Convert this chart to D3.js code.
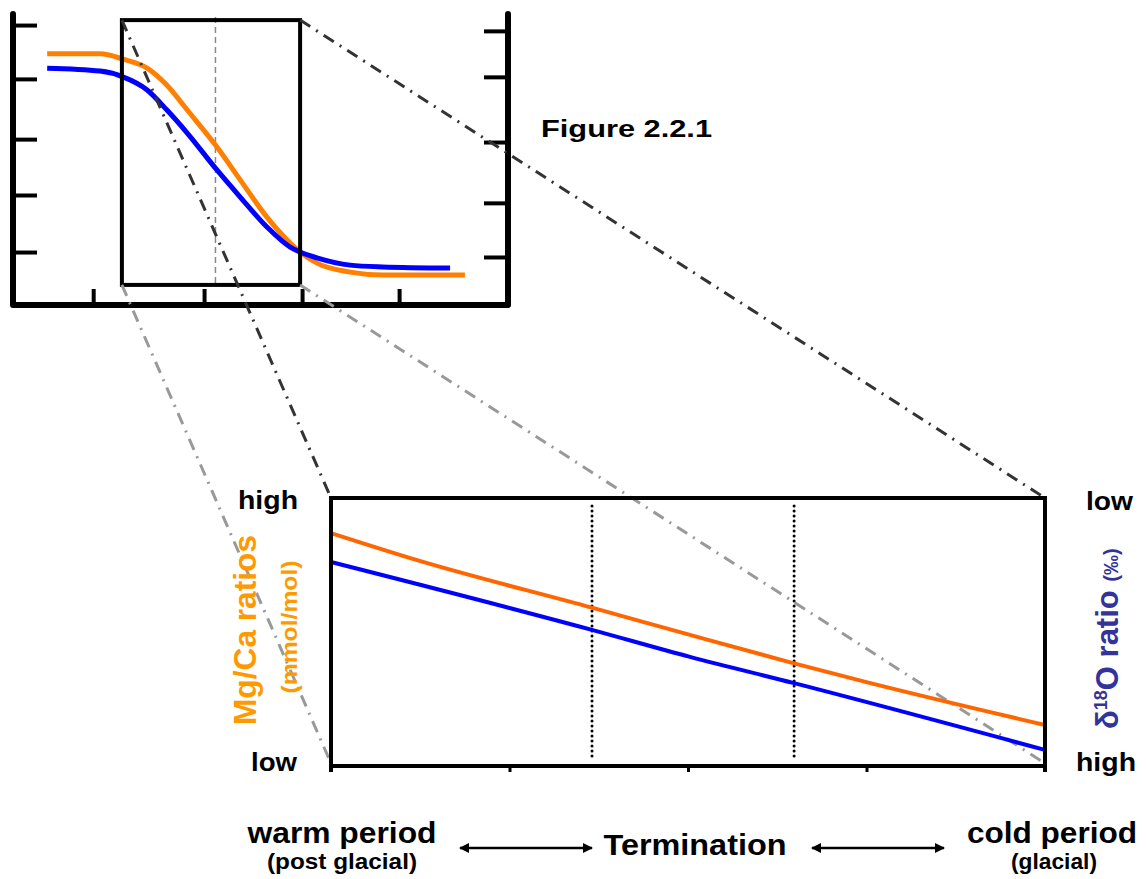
<!DOCTYPE html>
<html>
<head>
<meta charset="utf-8">
<script src="https://cdn.jsdelivr.net/npm/d3@7"></script>
<style>
  body { margin: 0; background: #fff; }
  svg { display: block; font-family: "Liberation Sans", Arial, sans-serif; font-weight: bold; }
</style>
</head>
<body>
<svg width="1146" height="879"></svg>
<script>
// ---- data: small overview chart (arbitrary units 0..10) ----
var overviewX = [0.69, 1.76, 2.22, 2.71, 3.11, 3.52, 4.12, 4.59, 5.13, 5.60, 5.80, 6.14, 6.81, 7.47, 9.13];
var overviewMgCa = [8.63, 8.63, 8.45, 8.14, 7.55, 6.70, 5.43, 4.30, 3.02, 2.13, 1.82, 1.44, 1.13, 1.03, 1.03];
var overviewD18OX = [0.69, 1.76, 2.22, 2.71, 3.11, 3.52, 4.12, 4.59, 5.13, 5.60, 5.80, 6.14, 6.81, 7.47, 8.83];
var overviewD18O = [8.14, 8.04, 7.84, 7.39, 6.70, 5.91, 4.64, 3.71, 2.68, 1.99, 1.82, 1.62, 1.37, 1.31, 1.27];
var overviewLeftTicks = [9.62, 7.77, 5.70, 3.78, 1.82];
var overviewRightTicks = [9.42, 7.84, 5.60, 3.51, 1.65];
var overviewBottomTicks = [1.62, 3.86, 5.84, 7.80];
var zoomWindowX = [2.2, 5.8];
var zoomWindowY = [0.69, 9.79];
var zoomCentre = 4.09;

// ---- data: enlarged termination chart ----
var detailMgCaX = [2.2, 2.63, 3.52, 4.01, 4.53, 4.90, 5.8];
var detailMgCa = [8.69, 7.69, 5.90, 4.89, 3.84, 3.13, 1.53];
var detailD18OX = [2.2, 3.52, 4.01, 4.53, 5.8];
var detailD18O = [7.61, 5.07, 4.07, 3.10, 0.60];
var detailTicks = [2.2, 3.1, 4.0, 4.9, 5.8];
var terminationBounds = [3.516, 4.535];

var svg = d3.select('svg');

// ---------------- overview chart ----------------
var sx = d3.scaleLinear().domain([0, 10]).range([13, 508]);
var sy = d3.scaleLinear().domain([0, 10]).range([305, 14]);

var overview = svg.append('g');

// the U-shaped frame
overview.append('path')
    .attr('d', 'M' + sx(0) + ',' + sy(10) + 'V' + sy(0) + 'H' + sx(10) + 'V' + sy(10))
    .attr('fill', 'none').attr('stroke', '#000').attr('stroke-width', 6)
    .attr('stroke-linejoin', 'round').attr('stroke-linecap', 'round');

function tickAxis(g, axis) {
    g.call(axis);
    g.select('.domain').remove();
    g.selectAll('.tick line').attr('stroke', '#000').attr('stroke-width', 4);
}

overview.append('g').attr('transform', 'translate(' + sx(0) + ',0)')
    .call(tickAxis, d3.axisLeft(sy).tickValues(overviewLeftTicks).tickSize(-24).tickFormat(''));
overview.append('g').attr('transform', 'translate(' + sx(10) + ',0)')
    .call(tickAxis, d3.axisRight(sy).tickValues(overviewRightTicks).tickSize(-24).tickFormat(''));
overview.append('g').attr('transform', 'translate(0,' + sy(0) + ')')
    .call(tickAxis, d3.axisBottom(sx).tickValues(overviewBottomTicks).tickSize(-16).tickFormat(''));

// dashed line at the middle of the termination
overview.append('line')
    .attr('x1', sx(zoomCentre)).attr('x2', sx(zoomCentre))
    .attr('y1', sy(9.9)).attr('y2', sy(zoomWindowY[0]))
    .attr('stroke', '#888').attr('stroke-width', 1.5).attr('stroke-dasharray', '6,4');

var smallLine = d3.line().curve(d3.curveMonotoneX)
    .x(function (d) { return sx(d[0]); })
    .y(function (d) { return sy(d[1]); });

overview.append('path')
    .datum(d3.zip(overviewX, overviewMgCa))
    .attr('d', smallLine)
    .attr('fill', 'none').attr('stroke', '#FF8000').attr('stroke-width', 5);
overview.append('path')
    .datum(d3.zip(overviewD18OX, overviewD18O))
    .attr('d', smallLine)
    .attr('fill', 'none').attr('stroke', '#0000FF').attr('stroke-width', 5);

// zoom window
overview.append('rect')
    .attr('x', sx(zoomWindowX[0])).attr('y', sy(zoomWindowY[1]))
    .attr('width', sx(zoomWindowX[1]) - sx(zoomWindowX[0]))
    .attr('height', sy(zoomWindowY[0]) - sy(zoomWindowY[1]))
    .attr('fill', 'none').attr('stroke', '#000').attr('stroke-width', 4);

svg.append('text')
    .attr('x', 541).attr('y', 137)
    .attr('font-size', 23).attr('textLength', 171).attr('lengthAdjust', 'spacingAndGlyphs')
    .text('Figure 2.2.1');

// ---------------- detail chart ----------------
var bx = d3.scaleLinear().domain(zoomWindowX).range([331, 1045]);
var by = d3.scaleLinear().domain([0, 10]).range([766, 498]);

// connector lines from zoom window corners to the detail chart corners
var connectors = [
    { from: [zoomWindowX[0], zoomWindowY[1]], to: [bx(zoomWindowX[0]), by(10)], colour: '#333' },
    { from: [zoomWindowX[0], zoomWindowY[0]], to: [bx(zoomWindowX[0]), by(0.1)], colour: '#999' },
    { from: [zoomWindowX[1], zoomWindowY[1]], to: [bx(zoomWindowX[1]), by(10)], colour: '#333' },
    { from: [zoomWindowX[1], zoomWindowY[0]], to: [bx(zoomWindowX[1]), by(0.1)], colour: '#999' }
];

var detail = svg.append('g');

detail.selectAll('line.conn')
    .data(connectors)
    .enter().append('line')
    .attr('class', 'conn')
    .attr('x1', function (d) { return sx(d.from[0]); })
    .attr('y1', function (d) { return sy(d.from[1]); })
    .attr('x2', function (d) { return d.to[0]; })
    .attr('y2', function (d) { return d.to[1]; })
    .attr('stroke', function (d) { return d.colour; })
    .attr('stroke-width', 3)
    .attr('stroke-dasharray', '12,7,2,7');

// termination boundaries
detail.selectAll('line.bound')
    .data(terminationBounds)
    .enter().append('line')
    .attr('class', 'bound')
    .attr('x1', function (d) { return bx(d); }).attr('x2', function (d) { return bx(d); })
    .attr('y1', by(9.7)).attr('y2', by(0.2))
    .attr('stroke', '#000').attr('stroke-width', 3)
    .attr('stroke-linecap', 'round').attr('stroke-dasharray', '0,5');

var bigLine = d3.line().curve(d3.curveMonotoneX)
    .x(function (d) { return bx(d[0]); })
    .y(function (d) { return by(d[1]); });

detail.append('path')
    .datum(d3.zip(detailMgCaX, detailMgCa))
    .attr('d', bigLine)
    .attr('fill', 'none').attr('stroke', '#FF6600').attr('stroke-width', 4);
detail.append('path')
    .datum(d3.zip(detailD18OX, detailD18O))
    .attr('d', bigLine)
    .attr('fill', 'none').attr('stroke', '#0000FF').attr('stroke-width', 4);

// frame
detail.append('path')
    .attr('d', 'M' + bx(2.2) + ',' + (by(0) + 6) + 'V' + by(10) + 'H' + bx(5.8) + 'V' + (by(0) + 6))
    .attr('fill', 'none').attr('stroke', '#000').attr('stroke-width', 4);

detail.append('g').attr('transform', 'translate(0,' + by(0) + ')')
    .call(function (g) {
        g.call(d3.axisBottom(bx).tickValues(detailTicks).tickSize(6).tickFormat(''));
        g.select('.domain').attr('stroke-width', 4).attr('d', 'M' + bx(2.2) + ',0H' + bx(5.8));
        g.selectAll('.tick line').attr('stroke', '#000').attr('stroke-width', 3);
    });

// axis end labels
function label(x, y, txt, len, anchor) {
    svg.append('text')
        .attr('x', x).attr('y', y)
        .attr('font-size', 25)
        .attr('text-anchor', anchor || 'end')
        .attr('textLength', len).attr('lengthAdjust', 'spacingAndGlyphs')
        .text(txt);
}
label(298, 509, 'high', 60);
label(297, 771, 'low', 46);
label(1086, 510, 'low', 47, 'start');
label(1076, 771, 'high', 60, 'start');

// left axis title
svg.append('text')
    .attr('transform', 'translate(256,630) rotate(-90)')
    .attr('text-anchor', 'middle').attr('font-size', 31).attr('fill', '#FF9900')
    .attr('textLength', 190).attr('lengthAdjust', 'spacingAndGlyphs')
    .text('Mg/Ca ratios');
svg.append('text')
    .attr('transform', 'translate(297,627) rotate(-90)')
    .attr('text-anchor', 'middle').attr('font-size', 22).attr('fill', '#FF9900')
    .attr('textLength', 133).attr('lengthAdjust', 'spacingAndGlyphs')
    .text('(mmol/mol)');

// right axis title
var rt = svg.append('text')
    .attr('transform', 'translate(1118,729) rotate(-90)')
    .attr('fill', '#333399').attr('font-size', 31);
rt.append('tspan').text('δ');
rt.append('tspan').attr('font-size', 18).attr('dy', -11).text('18');
rt.append('tspan').attr('dy', 11).text('O ratio ');
rt.append('tspan').attr('font-size', 20).text('(‰)');

// period labels along the bottom
function period(x, y, txt, size, len) {
    svg.append('text')
        .attr('x', x).attr('y', y)
        .attr('text-anchor', 'middle').attr('font-size', size)
        .attr('textLength', len).attr('lengthAdjust', 'spacingAndGlyphs')
        .text(txt);
}
period(342, 843, 'warm period', 30, 189);
period(342, 869, '(post glacial)', 22, 150);
period(695, 855, 'Termination', 30, 183);
period(1052, 843, 'cold period', 30, 170);
period(1054, 869, '(glacial)', 22, 86);

// double headed arrows
var defs = svg.append('defs');
defs.append('marker')
    .attr('id', 'head').attr('viewBox', '0 0 10 10')
    .attr('refX', 9).attr('refY', 5)
    .attr('markerWidth', 4).attr('markerHeight', 4)
    .attr('orient', 'auto-start-reverse')
    .append('path').attr('d', 'M0,0L10,5L0,10Z').attr('fill', '#000');

var arrows = [[460, 592], [812, 944]];
svg.selectAll('line.arrow')
    .data(arrows)
    .enter().append('line')
    .attr('class', 'arrow')
    .attr('x1', function (d) { return d[0]; }).attr('x2', function (d) { return d[1]; })
    .attr('y1', 848).attr('y2', 848)
    .attr('stroke', '#000').attr('stroke-width', 2.5)
    .attr('marker-start', 'url(#head)').attr('marker-end', 'url(#head)');
</script>
</body>
</html>
